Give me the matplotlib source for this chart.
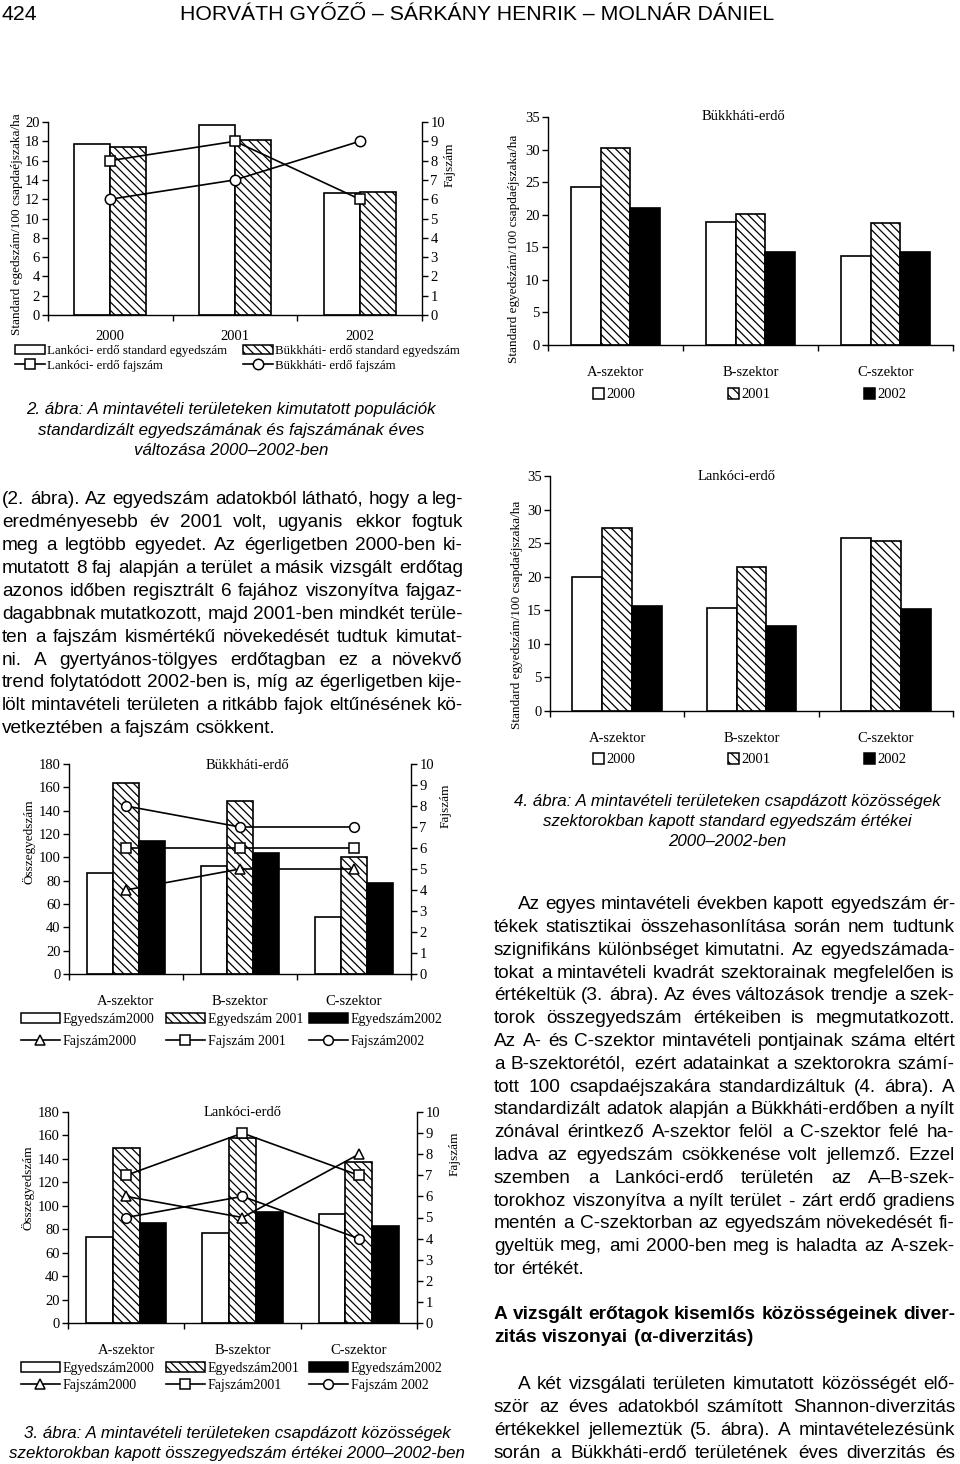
import numpy as np
import matplotlib
matplotlib.use("Agg")
import matplotlib.pyplot as plt
from matplotlib.patches import Patch
from matplotlib.lines import Line2D
from matplotlib import font_manager

# ---------------- DATA ----------------
years = ['2000', '2001', '2002']
sectors = ['A-szektor', 'B-szektor', 'C-szektor']

# 2. ábra – standard egyedszám és fajszám évenként
lank_std = [17.7, 19.7, 12.6]
bukk_std = [17.4, 18.1, 12.7]
lank_faj = [8, 9, 6]
bukk_faj = [6, 7, 9]

# 3. ábra – Bükkháti-erdő összegyedszám szektoronként
bukk_tot_2000 = [87, 93, 49]
bukk_tot_2001 = [164, 148, 100]
bukk_tot_2002 = [114, 104, 78]
bukk_faj_2000 = [4, 5, 5]
bukk_faj_2001 = [6, 6, 6]
bukk_faj_2002 = [8, 7, 7]

# 3. ábra – Lankóci-erdő összegyedszám szektoronként
lank_tot_2000 = [73, 77, 93]
lank_tot_2001 = [149, 158, 137]
lank_tot_2002 = [85, 95, 83]
lank_faj_2000 = [6, 5, 8]
lank_faj_2001 = [7, 9, 7]
lank_faj_2002 = [5, 6, 4]

# 4. ábra – standard egyedszám szektoronként
bukk_sec_2000 = [24.2, 18.9, 13.6]
bukk_sec_2001 = [30.2, 20.1, 18.7]
bukk_sec_2002 = [21.1, 14.3, 14.3]
lank_sec_2000 = [20.0, 15.4, 25.7]
lank_sec_2001 = [27.3, 21.4, 25.3]
lank_sec_2002 = [15.7, 12.7, 15.2]

# ---------------- SETUP ----------------
W, H = 960, 1464
SERIF = ['Liberation Serif', 'DejaVu Serif']
SANS = ['Liberation Sans', 'DejaVu Sans']
plt.rcParams['font.family'] = SERIF
plt.rcParams['hatch.linewidth'] = 0.9
plt.rcParams['axes.linewidth'] = 1.0
HATCH = '\\\\\\\\'
FS = 10.5      # tick / category labels
FSL = 9.5      # axis titles

fig = plt.figure(figsize=(W / 100, H / 100), dpi=100)
fig.patch.set_facecolor('white')
renderer = fig.canvas.get_renderer()


def fx(x):
    return x / W


def fy(y):
    return 1 - y / H


def px_axes(l, t, r, b):
    return fig.add_axes([l / W, 1 - b / H, (r - l) / W, (b - t) / H])


def measure(s, **kw):
    t = fig.text(0, 0, s, **kw)
    w = t.get_window_extent(renderer).width
    t.remove()
    return w


def fit(s, target, **kw):
    return 10 * target / measure(s, fontsize=10, **kw)


def style_axes(ax, cat_labels, pad):
    ax.spines['top'].set_visible(False)
    ax.spines['right'].set_visible(False)
    ax.set_xlim(-0.5, 2.5)
    ax.set_xticks(np.arange(3))
    ax.set_xticklabels(cat_labels, fontsize=FS)
    ax.tick_params(axis='x', which='major', length=0, pad=pad)
    ax.set_xticks([-0.5, 0.5, 1.5, 2.5], minor=True)
    ax.tick_params(axis='x', which='minor', length=4, direction='out', width=1)
    ax.tick_params(axis='y', direction='out', length=4, width=1, pad=2, labelsize=FS)
    ax.set_facecolor('none')


def style_twin(ax2):
    for s in ['top', 'left', 'bottom']:
        ax2.spines[s].set_visible(False)
    ax2.tick_params(axis='y', direction='out', length=4, width=1, pad=2, labelsize=FS)


def legend_col(handles, labels, x, ytop, fs, hl, hh, ls, htp=0.15):
    fig.legend(handles, labels, loc='upper left', bbox_to_anchor=(fx(x), fy(ytop)),
               bbox_transform=fig.transFigure, frameon=False, borderpad=0,
               borderaxespad=0, handlelength=hl, handleheight=hh, labelspacing=ls,
               handletextpad=htp, fontsize=fs)


bar_kw = dict(edgecolor='black', linewidth=1.2)
line_kw = dict(color='black', linewidth=1.2, mfc='white', mec='black', mew=1.1)

# ---------------- 2. ábra (top-left) ----------------
x = np.arange(3)
ax = px_axes(48, 122, 422, 315)
bw = 0.29
ax.bar(x - bw / 2, lank_std, bw, facecolor='white', **bar_kw)
ax.bar(x + bw / 2, bukk_std, bw, facecolor='white', hatch=HATCH, **bar_kw)
ax.set_ylim(0, 20)
ax.set_yticks(np.arange(0, 21, 2))
style_axes(ax, years, 11)
ax.set_ylabel('Standard egedszám/100 csapdaéjszaka/ha', fontsize=FSL)
ax.yaxis.set_label_coords(-0.068, 0.47)
ax2 = ax.twinx()
ax2.plot(x, lank_faj, marker='s', ms=7.5, **line_kw)
ax2.plot(x, bukk_faj, marker='o', ms=7.5, **line_kw)
ax2.set_ylim(0, 10)
ax2.set_yticks(np.arange(0, 11, 1))
style_twin(ax2)
ax2.set_ylabel('Fajszám', fontsize=FSL)
ax2.yaxis.set_label_coords(1.058, 0.78)

legend_col([Patch(facecolor='white', edgecolor='black', linewidth=1.1),
            Line2D([], [], marker='s', ms=7.5, **line_kw)],
           ['Lankóci- erdő standard egyedszám', 'Lankóci- erdő fajszám'],
           15, 345, 9.3, 2.3, 0.65, 0.22)
legend_col([Patch(facecolor='white', edgecolor='black', linewidth=1.1, hatch=HATCH),
            Line2D([], [], marker='o', ms=7.5, **line_kw)],
           ['Bükkháti- erdő standard egyedszám', 'Bükkháti- erdő fajszám'],
           243, 345, 9.3, 2.3, 0.65, 0.22)


# ---------------- 4. ábra (right, two panels) ----------------
def sector_std_chart(box, vals, title, title_xy, ylabel_y, leg_y):
    a = px_axes(*box)
    bw4 = 0.222
    a.bar(x - bw4, vals[0], bw4, facecolor='white', **bar_kw)
    a.bar(x, vals[1], bw4, facecolor='white', hatch=HATCH, **bar_kw)
    a.bar(x + bw4, vals[2], bw4, facecolor='black', **bar_kw)
    a.set_ylim(0, 35)
    a.set_yticks(np.arange(0, 36, 5))
    style_axes(a, sectors, 15)
    a.set_ylabel('Standard egyedszám/100 csapdaéjszaka/ha', fontsize=FSL)
    a.yaxis.set_label_coords(-0.068, ylabel_y)
    fig.text(fx(title_xy[0]), fy(title_xy[1]), title, ha='center', va='center', fontsize=FS)
    hs = [Patch(facecolor='white', edgecolor='black', linewidth=1.1),
          Patch(facecolor='white', edgecolor='black', linewidth=1.1, hatch='\\\\\\'),
          Patch(facecolor='black', edgecolor='black', linewidth=1.1)]
    for h, lab, lx in zip(hs, years, [593, 728, 864]):
        legend_col([h], [lab], lx, leg_y - 8, FS, 0.75, 0.75, 0.1, 0.15)
    return a


sector_std_chart((548, 117, 953, 345), [bukk_sec_2000, bukk_sec_2001, bukk_sec_2002],
                 'Bükkháti-erdő', (743, 117), 0.42, 396)
sector_std_chart((550, 476, 953, 711), [lank_sec_2000, lank_sec_2001, lank_sec_2002],
                 'Lankóci-erdő', (737, 477), 0.41, 761)


# ---------------- 3. ábra (bottom-left, two panels) ----------------
def total_chart(box, tots, fajs, title, title_xy, ylab_y, rlab_x, rlab_y, leg_y, leg_gap,
                labels_e, labels_f):
    a = px_axes(*box)
    bw3 = 0.23
    a.bar(x - bw3, tots[0], bw3, facecolor='white', **bar_kw)
    a.bar(x, tots[1], bw3, facecolor='white', hatch=HATCH, **bar_kw)
    a.bar(x + bw3, tots[2], bw3, facecolor='black', **bar_kw)
    a.set_ylim(0, 180)
    a.set_yticks(np.arange(0, 181, 20))
    style_axes(a, sectors, 15)
    a.set_ylabel('Összegyedszám', fontsize=FSL)
    a.yaxis.set_label_coords(-0.097, ylab_y)
    a2 = a.twinx()
    a2.plot(x, fajs[0], marker='^', ms=7, **line_kw)
    a2.plot(x, fajs[1], marker='s', ms=7, **line_kw)
    a2.plot(x, fajs[2], marker='o', ms=7, **line_kw)
    a2.set_ylim(0, 10)
    a2.set_yticks(np.arange(0, 11, 1))
    style_twin(a2)
    a2.set_ylabel('Fajszám', fontsize=FSL)
    a2.yaxis.set_label_coords(rlab_x, rlab_y)
    fig.text(fx(title_xy[0]), fy(title_xy[1]), title, ha='center', va='center', fontsize=FS)
    rects = [Patch(facecolor='white', edgecolor='black', linewidth=1.1),
             Patch(facecolor='white', edgecolor='black', linewidth=1.1, hatch=HATCH),
             Patch(facecolor='black', edgecolor='black', linewidth=1.1)]
    lines = [Line2D([], [], marker=m, ms=7, **line_kw) for m in ['^', 's', 'o']]
    for r, l, le, lf, lx in zip(rects, lines, labels_e, labels_f, [21, 166, 309]):
        legend_col([r, l], [le, lf], lx, leg_y, 10, 2.8, 0.75, leg_gap, 0.2)
    return a


total_chart((69, 764, 411, 974), [bukk_tot_2000, bukk_tot_2001, bukk_tot_2002],
            [bukk_faj_2000, bukk_faj_2001, bukk_faj_2002], 'Bükkháti-erdő', (247, 765),
            0.63, 1.085, 0.80, 1013, 0.62,
            ['Egyedszám2000', 'Egyedszám 2001', 'Egyedszám2002'],
            ['Fajszám2000', 'Fajszám 2001', 'Fajszám2002'])
total_chart((68, 1112, 417, 1323), [lank_tot_2000, lank_tot_2001, lank_tot_2002],
            [lank_faj_2000, lank_faj_2001, lank_faj_2002], 'Lankóci-erdő', (243, 1113),
            0.64, 1.09, 0.80, 1362, 0.28,
            ['Egyedszám2000', 'Egyedszám2001', 'Egyedszám2002'],
            ['Fajszám2000', 'Fajszám2001', 'Fajszám 2002'])

# ---------------- TEXT ----------------
try:
    font_manager.findfont('Liberation Sans Narrow', fallback_to_default=False)
    HEAD = ['Liberation Sans Narrow', 'Liberation Sans']
except Exception:
    HEAD = SANS
title = 'HORVÁTH GYŐZŐ – SÁRKÁNY HENRIK – MOLNÁR DÁNIEL'
fs_head = fit(title, 595, family=HEAD)
fig.text(fx(180), fy(15), title, ha='left', va='center', fontsize=fs_head, family=HEAD)
fig.text(fx(2), fy(15), '424', ha='left', va='center', fontsize=fs_head, family=HEAD)

fs_body = fit('vetkeztében a fajszám csökkent.', 275, family=SANS)
fs_cap = fit('2. ábra: A mintavételi területeken kimutatott populációk', 412,
             family=SANS, style='italic')
fs_bold = fit('zitás viszonyai (α-diverzitás)', 258, family=SANS, weight='bold')


def base_y(y, fs):
    # y = visual centre of the line; convert to a pixel-aligned baseline
    return float(round(y + 0.33 * fs * 100 / 72)) + 0.45


def text_line(x0, x1, y, s, fs, justify=True, **kw):
    yb = base_y(y, fs)
    words = s.split(' ')
    widths = [measure(w, fontsize=fs, family=SANS, **kw) for w in words]
    if justify and len(words) > 1:
        gap = (x1 - x0 - sum(widths)) / (len(words) - 1)
    else:
        gap = measure('a a', fontsize=fs, family=SANS, **kw) - 2 * measure('a', fontsize=fs, family=SANS, **kw)
    xx = x0
    for w, wd in zip(words, widths):
        # words ending in a comma are rasterised one pixel low; compensate
        yw = yb - 1.0 if w.endswith(',') else yb
        fig.text(fx(round(xx)), fy(yw), w, ha='left', va='baseline', fontsize=fs,
                 family=SANS, **kw)
        xx += wd + gap


def paragraph(lines, x0, x1, y0, dy, fs, indent=0, last_justify=False, **kw):
    for i, s in enumerate(lines):
        xs = x0 + (indent if i == 0 else 0)
        j = (i < len(lines) - 1) or last_justify
        text_line(xs, x1, y0 + i * dy, s, fs, justify=j, **kw)


def caption(lines, xc, ys, fs):
    for s, y in zip(lines, ys):
        fig.text(fx(xc), fy(base_y(y, fs)), s, ha='center', va='baseline', fontsize=fs,
                 family=SANS, style='italic')


caption(['2. ábra: A mintavételi területeken kimutatott populációk',
         'standardizált egyedszámának és fajszámának éves',
         'változása 2000–2002-ben'], 231, [408, 429, 449], fs_cap)

paragraph(['(2. ábra). Az egyedszám adatokból látható, hogy a leg-',
           'eredményesebb év 2001 volt, ugyanis ekkor fogtuk',
           'meg a legtöbb egyedet. Az égerligetben 2000-ben ki-',
           'mutatott 8 faj alapján a terület a másik vizsgált erdőtag',
           'azonos időben regisztrált 6 fajához viszonyítva fajgaz-',
           'dagabbnak mutatkozott, majd 2001-ben mindkét terüle-',
           'ten a fajszám kismértékű növekedését tudtuk kimutat-',
           'ni. A gyertyános-tölgyes erdőtagban ez a növekvő',
           'trend folytatódott 2002-ben is, míg az égerligetben kije-',
           'lölt mintavételi területen a ritkább fajok eltűnésének kö-',
           'vetkeztében a fajszám csökkent.'], 2, 463, 498, 22.9, fs_body)

caption(['4. ábra: A mintavételi területeken csapdázott közösségek',
         'szektorokban kapott standard egyedszám értékei',
         '2000–2002-ben'], 727, [800, 820, 840], fs_cap)

paragraph(['Az egyes mintavételi években kapott egyedszám ér-',
           'tékek statisztikai összehasonlítása során nem tudtunk',
           'szignifikáns különbséget kimutatni. Az egyedszámada-',
           'tokat a mintavételi kvadrát szektorainak megfelelően is',
           'értékeltük (3. ábra). Az éves változások trendje a szek-',
           'torok összegyedszám értékeiben is megmutatkozott.',
           'Az A- és C-szektor mintavételi pontjainak száma eltért',
           'a B-szektorétól, ezért adatainkat a szektorokra számí-',
           'tott 100 csapdaéjszakára standardizáltuk (4. ábra). A',
           'standardizált adatok alapján a Bükkháti-erdőben a nyílt',
           'zónával érintkező A-szektor felöl a C-szektor felé ha-',
           'ladva az egyedszám csökkenése volt jellemző. Ezzel',
           'szemben a Lankóci-erdő területén az A–B-szek-',
           'torokhoz viszonyítva a nyílt terület - zárt erdő gradiens',
           'mentén a C-szektorban az egyedszám növekedését fi-',
           'gyeltük meg, ami 2000-ben meg is haladta az A-szek-',
           'tor értékét.'], 494, 955, 903, 22.8, fs_body, indent=24)

paragraph(['A vizsgált erőtagok kisemlős közösségeinek diver-',
           'zitás viszonyai (α-diverzitás)'], 494, 955, 1313, 23, fs_bold, weight='bold')

paragraph(['A két vizsgálati területen kimutatott közösségét elő-',
           'ször az éves adatokból számított Shannon-diverzitás',
           'értékekkel jellemeztük (5. ábra). A mintavételezésünk',
           'során a Bükkháti-erdő területének éves diverzitás és'], 494, 955, 1383, 23,
          fs_body, indent=24, last_justify=True)

caption(['3. ábra: A mintavételi területeken csapdázott közösségek',
         'szektorokban kapott összegyedszám értékei 2000–2002-ben'], 237, [1432, 1452], fs_cap)

fig.savefig('out.png', dpi=100, facecolor='white')
